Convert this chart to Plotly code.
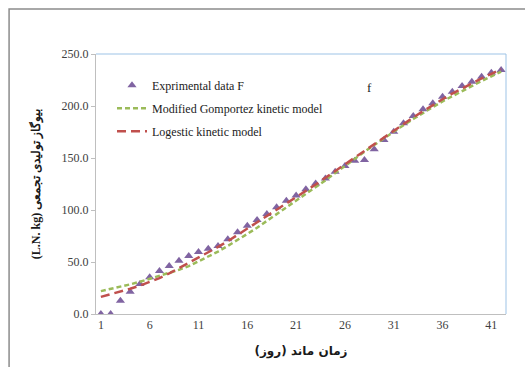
import plotly.graph_objects as go

days = list(range(1, 43))

experimental = [0, 0, 12.8, 21.5, 28.8, 35.3, 41.3, 46.2, 51.3, 55.8,
                59.6, 62.8, 65.4, 71.8, 78.5, 84.9, 90.4, 96.2, 102.6, 109,
                114, 119.9, 125.6, 130.4, 136.8, 142.3, 147.4, 148, 158.3, 167.3,
                175.3, 183.3, 190.4, 196.8, 202.6, 209, 213.8, 219.2, 223.4, 228.2,
                232, 234.6]

gompertz = [22, 24, 26.2, 28.5, 31, 33.7, 36.5, 39.5, 42.5, 46,
            50.5, 55, 60, 65.5, 71, 77, 83, 89.5, 96, 102.5,
            109, 115, 122, 128.5, 135.5, 142.5, 149, 156, 162.5, 169,
            175.5, 181.5, 187.5, 193.5, 199, 204.5, 209.5, 214.5, 219.5, 224,
            228.5, 233]

logistic = [16.5, 19, 21.5, 24.3, 27.3, 30.7, 34.5, 39, 44, 49,
            54, 59, 64.5, 70, 76, 82, 88, 94, 100, 106,
            112, 118, 124.5, 131, 137.5, 144, 150.5, 157, 163.5, 170,
            176, 182.5, 189, 195, 201, 206.5, 212, 217, 222, 226.5,
            231, 235.5]

x_ticks = [1, 6, 11, 16, 21, 26, 31, 36, 41]
y_ticks = [0, 50, 100, 150, 200, 250]
y_tick_labels = ["0.0", "50.0", "100.0", "150.0", "200.0", "250.0"]

serif = "Liberation Serif"

fig = go.Figure()
fig.add_trace(go.Scatter(
    x=days, y=experimental, mode="markers", name="Exprimental data F",
    legendgroup="a",
    marker=dict(symbol="triangle-up", size=8, color="#8064A2"),
))
fig.add_trace(go.Scatter(
    x=days, y=gompertz, mode="lines", name="Modified Gomportez kinetic model",
    legendgroup="b",
    line=dict(color="#9BBB59", width=2.5, dash="5px,3px"),
))
fig.add_trace(go.Scatter(
    x=days, y=logistic, mode="lines", name="Logestic kinetic model",
    legendgroup="c",
    line=dict(color="#C0504D", width=2.5, dash="9px,5px"),
))

fig.update_layout(
    width=525, height=367,
    margin=dict(l=96, r=19, t=54, b=53),
    paper_bgcolor="white", plot_bgcolor="white",
    font=dict(family=serif, size=12, color="#404040"),
    showlegend=True,
    legend=dict(x=0.039, y=0.936, xanchor="left", yanchor="top",
                bgcolor="rgba(0,0,0,0)", tracegroupgap=4,
                font=dict(family=serif, size=12, color="#1a1a1a")),
    xaxis=dict(range=[0.5, 42.5], tickvals=x_ticks, ticktext=[str(v) for v in x_ticks],
               showgrid=False, zeroline=False, showline=True, linecolor="#BFBFBF",
               linewidth=1, ticks="", mirror=False,
               tickfont=dict(family=serif, size=12, color="#404040"),
               title=dict(text="زمان ماند (روز)\u200f", standoff=15,
                          font=dict(family="DejaVu Sans", size=12, color="#1a1a1a", weight="bold"))),
    yaxis=dict(range=[0, 250], tickvals=y_ticks, ticktext=y_tick_labels,
               showgrid=False, zeroline=False, showline=True, linecolor="#BFBFBF",
               linewidth=1, ticks="outside", ticklen=4, tickcolor="#BFBFBF",
               tickfont=dict(family=serif, size=12, color="#404040"),
               title=dict(text="(L.N. kg) بیوگاز تولیدی تجمعی", standoff=18,
                          font=dict(family=serif, size=12, color="#1a1a1a", weight="bold"))),
    shapes=[
        dict(type="line", xref="paper", yref="paper", x0=0, x1=1, y0=1, y1=1,
             line=dict(color="#9DC3E6", width=1)),
        dict(type="line", xref="paper", yref="paper", x0=1, x1=1, y0=0, y1=1,
             line=dict(color="#9DC3E6", width=1)),
        dict(type="rect", xref="paper", yref="paper", x0=-0.212, x1=1.3, y0=-0.3, y1=1.173,
             line=dict(color="#8C8C8C", width=1.5), layer="below"),
    ],
    annotations=[
        dict(text="f", xref="paper", yref="paper", x=(369 - 96) / 410, y=(314 - 78) / 260,
             showarrow=False, font=dict(family=serif, size=13, color="#1a1a1a")),
    ],
)

fig.write_html("out.html", config={"displayModeBar": False},
               post_script="document.body.style.margin='0';")
